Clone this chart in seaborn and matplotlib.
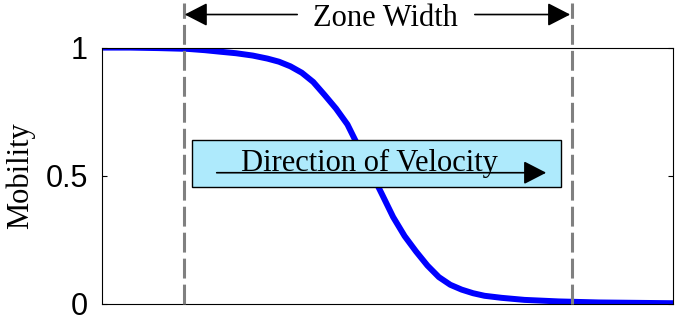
import numpy as np
import pandas as pd
import matplotlib
matplotlib.use('Agg')
import matplotlib.pyplot as plt
import seaborn as sns
from matplotlib.patches import Rectangle

# mobility curve (x in arbitrary 0-100 units)
position = [0, 5, 10, 15, 18, 20.7, 23.5, 26.4, 29, 31, 33, 35, 37, 39, 41, 43,
            45, 47, 49, 51, 53, 55, 57, 59, 61, 63, 65, 67, 70, 74, 80, 87, 100]
mobility = [1.0, 1.0, 0.998, 0.995, 0.990, 0.984, 0.978, 0.969, 0.957, 0.945,
            0.927, 0.902, 0.866, 0.815, 0.762, 0.700, 0.610, 0.520, 0.430,
            0.339, 0.265, 0.205, 0.150, 0.105, 0.075, 0.056, 0.042, 0.032,
            0.024, 0.016, 0.010, 0.006, 0.003]
zone_edges = [14.4, 82.3]
y_ticks = [0, 0.5, 1]
y_tick_labels = ['0', '0.5', '1']

df = pd.DataFrame({'position': position, 'mobility': mobility})

sns.set_theme(style='white')
plt.rcParams['font.family'] = ['Liberation Serif', 'DejaVu Serif']
plt.rcParams['text.color'] = 'black'
plt.rcParams['axes.labelcolor'] = 'black'
plt.rcParams['ytick.color'] = 'black'
plt.rcParams['xtick.color'] = 'black'

fig = plt.figure(figsize=(6.75, 3.26), dpi=100)
ax = fig.add_axes([0.151, 0.0675, 0.846, 0.7865])

sns.lineplot(data=df, x='position', y='mobility', ax=ax, color='#0000ff',
             linewidth=4.3, zorder=2, solid_joinstyle='round',
             solid_capstyle='round')

ax.set_xlim(0, 100)
ax.set_ylim(0, 1)
ax.set_xticks([])
ax.set_yticks(y_ticks)
ax.set_yticklabels(y_tick_labels, fontfamily='Liberation Sans', fontsize=22,
                   color='black')
ax.tick_params(axis='y', direction='in', length=3.6, width=0.8, color='black',
               pad=10, left=True, right=True)
for sp in ax.spines.values():
    sp.set_color('black')
    sp.set_linewidth(0.8)
    sp.set_visible(True)
ax.set_xlabel('')
ax.set_ylabel('Mobility', fontsize=22, color='black')
ax.yaxis.set_label_coords(-0.117, 0.5)

# zone boundaries
for xe in zone_edges:
    ax.axvline(xe, ymin=0, ymax=1.175, color='#808080', linewidth=2.2,
               dashes=(6.5, 2), clip_on=False, zorder=3)

# zone width arrows
arrow_kw = dict(arrowstyle='-|>,head_length=0.7,head_width=0.36', color='black',
                lw=1.2, mutation_scale=20, shrinkA=0, shrinkB=0)
ax.annotate('', xy=(zone_edges[0] + 0.1, 1.129), xytext=(34.2, 1.129),
            arrowprops=arrow_kw, annotation_clip=False)
ax.annotate('', xy=(zone_edges[1] - 0.3, 1.129), xytext=(65.3, 1.129),
            arrowprops=arrow_kw, annotation_clip=False)
ax.text(49.7, 1.084, 'Zone Width', fontsize=22, ha='center', va='baseline',
        color='black', clip_on=False)

# direction box
ax.add_patch(Rectangle((15.76, 0.456), 64.6, 0.183, facecolor='#aeeafc',
                       edgecolor='black', linewidth=1.0, zorder=4))
ax.text(46.8, 0.519, 'Direction of Velocity', fontsize=22, ha='center',
        va='baseline', color='black', zorder=5)
ax.annotate('', xy=(77.8, 0.512), xytext=(20.1, 0.512),
            arrowprops=dict(arrowstyle='-|>,head_length=0.7,head_width=0.36',
                            color='black', lw=1.2, mutation_scale=20,
                            shrinkA=0, shrinkB=0), zorder=6)

fig.savefig('out.png', dpi=100)
